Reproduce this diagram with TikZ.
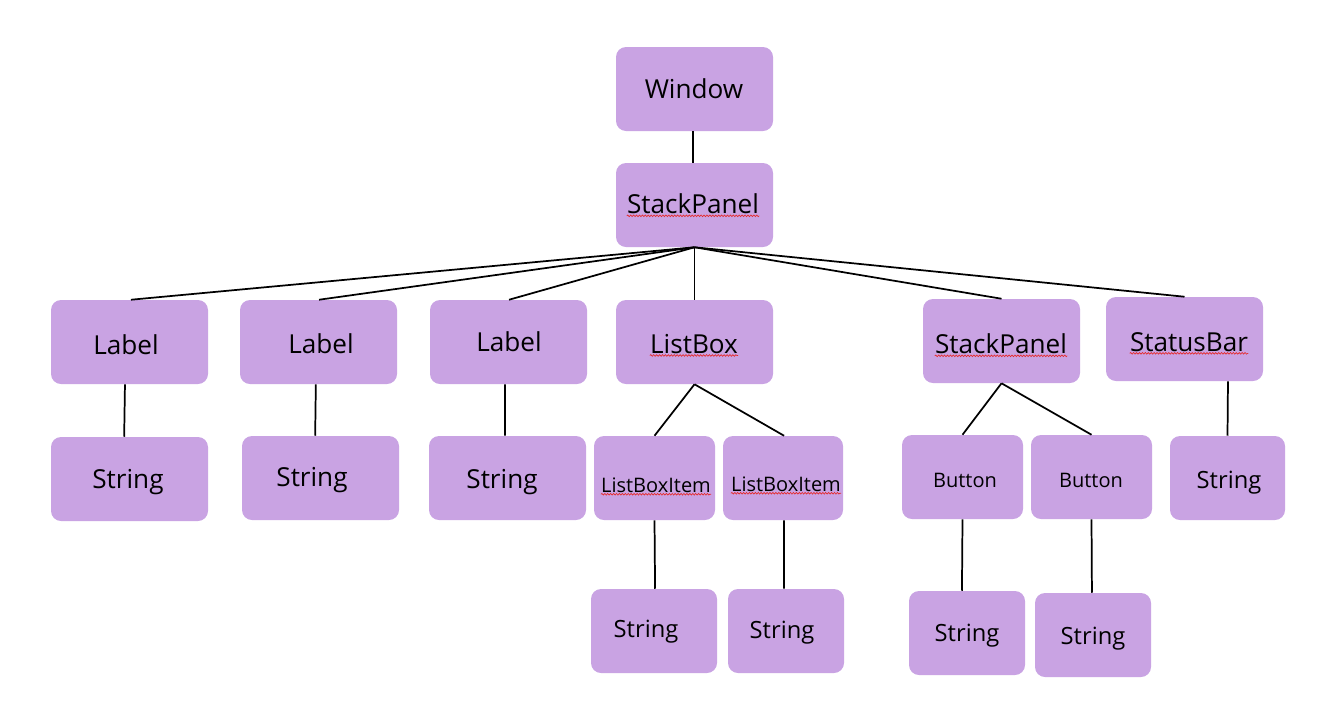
\documentclass[tikz,border=0pt]{standalone}
\usepackage{fontspec}
\setmainfont{Open Sans}
\usetikzlibrary{decorations.pathmorphing}
\definecolor{boxfill}{RGB}{201,163,227}
\definecolor{squigred}{RGB}{230,40,40}
\begin{document}
\begin{tikzpicture}[x=0.75pt,y=-0.75pt,
  bx/.style 2 args={fill=boxfill, draw=none, rounded corners=7.5pt, inner sep=0pt,
     minimum width=#1*0.75pt, minimum height=#2*0.75pt},
  txt/.style={inner sep=0pt, text=black},
  big/.style={font=\fontsize{19.6}{22}\selectfont},
  mid/.style={font=\fontsize{17.8}{20}\selectfont},
  sml/.style={font=\fontsize{15}{17}\selectfont},
  conn/.style={draw=black, line width=1.3pt},
  squig/.style={draw=squigred, line width=0.5pt, decorate,
     decoration={snake, amplitude=0.6pt, segment length=2.2pt}}]
\useasboundingbox (0,0) rectangle (1333,715);

% boxes
\node[bx={157}{84}] (win) at (694.5,89) {};
\node[bx={157}{84}] (sp1) at (694.5,205) {};
\node[bx={157}{84}] (l1) at (129.5,342) {};
\node[bx={157}{84}] (l2) at (318.5,342) {};
\node[bx={157}{84}] (l3) at (508.5,342) {};
\node[bx={157}{84}] (lb) at (694.5,342) {};
\node[bx={157}{84}] (sp2) at (1001.5,341) {};
\node[bx={157}{84}] (sb) at (1184.5,339) {};
\node[bx={157}{84}] (s1) at (129.5,479) {};
\node[bx={157}{84}] (s2) at (320.5,478) {};
\node[bx={157}{84}] (s3) at (507.5,478) {};
\node[bx={121}{84}] (lbi1) at (654.5,478) {};
\node[bx={120}{84}] (lbi2) at (783,478) {};
\node[bx={121}{84}] (b1) at (962.5,477) {};
\node[bx={121}{84}] (b2) at (1091.5,477) {};
\node[bx={115}{84}] (s4) at (1227.5,478) {};
\node[bx={126}{84}] (s5) at (654,631) {};
\node[bx={116}{84}] (s6) at (786,631) {};
\node[bx={116}{84}] (s7) at (967,633) {};
\node[bx={116}{84}] (s8) at (1093,635) {};

% texts
\node[txt,big] (winT) at (694,89) {Window};
\node[txt,big] (sp1T) at (693,204) {StackPanel};
\node[txt,big] (l1T) at (126,345) {Label};
\node[txt,big] (l2T) at (321,344) {Label};
\node[txt,big] (l3T) at (509,342) {Label};
\node[txt,big] (lbT) at (694,344) {ListBox};
\node[txt,big] (sp2T) at (1001,344) {StackPanel};
\node[txt,big] (sbT) at (1189,342) {StatusBar};
\node[txt,big] (s1T) at (128,482) {String};
\node[txt,big] (s2T) at (312,480) {String};
\node[txt,big] (s3T) at (502,482) {String};
\node[txt,sml] (lbi1T) at (656,485) {ListBoxItem};
\node[txt,sml] (lbi2T) at (786,484) {ListBoxItem};
\node[txt,sml] (b1T) at (965,480) {Button};
\node[txt,sml] (b2T) at (1091,480) {Button};
\node[txt,mid] (s4T) at (1229,483) {String};
\node[txt,mid] (s5T) at (646,632) {String};
\node[txt,mid] (s6T) at (782,633) {String};
\node[txt,mid] (s7T) at (967,636) {String};
\node[txt,mid] (s8T) at (1093,639) {String};

% spell-check squiggles
\foreach \t in {sp1T,lbT,sp2T,sbT,lbi1T,lbi2T}
  \draw[squig] ([yshift=-1.5pt]\t.base west) -- ([yshift=-1.5pt]\t.base east);

% connectors
\draw[conn] ([xshift=-1pt]win.south) -- ([xshift=-1pt]sp1.north);
\foreach \c/\dx in {l1/1.1, l2/0.4, l3/0.4, lb/0, sp2/0, sb/0}
  \draw[conn] (sp1.south) -- ([xshift=\dx pt]\c.north);
\draw[conn] ([xshift=-3.4pt]l1.south) -- ([xshift=-4pt]s1.north);
\draw[conn] ([xshift=-2pt]l2.south) -- ([xshift=-4pt]s2.north);
\draw[conn] ([xshift=-2.6pt]l3.south) -- ([xshift=-1.9pt]s3.north);
\draw[conn] (lb.south) -- (lbi1.north);
\draw[conn] (lb.south) -- ([xshift=0.8pt]lbi2.north);
\draw[conn] (lbi1.south) -- ([xshift=0.8pt]s5.north);
\draw[conn] ([xshift=0.8pt]lbi2.south) -- ([xshift=-1.5pt]s6.north);
\draw[conn] (sp2.south) -- (b1.north);
\draw[conn] (sp2.south) -- (b2.north);
\draw[conn] (b1.south) -- ([xshift=-3.8pt]s7.north);
\draw[conn] (b2.south) -- ([xshift=-0.8pt]s8.north);
\draw[conn] ([xshift=32.6pt]sb.south) -- (s4.north);
\end{tikzpicture}
\end{document}
